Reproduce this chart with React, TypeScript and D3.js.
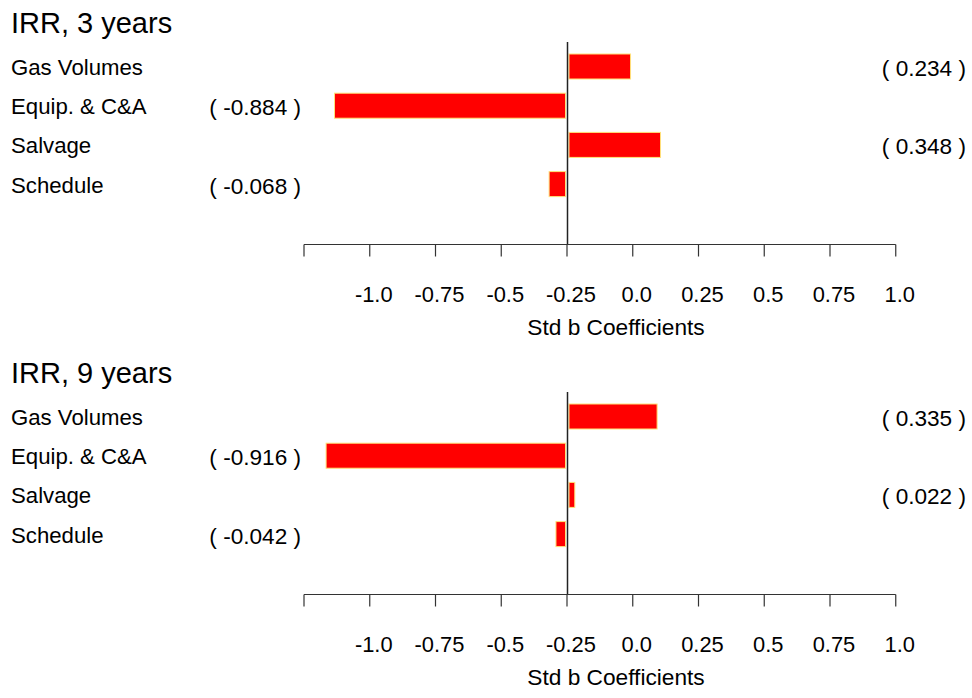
import React from "react";
import * as d3 from "d3";

const categories = ["Gas Volumes", "Equip. & C&A", "Salvage", "Schedule"];
const values3 = [0.234, -0.884, 0.348, -0.068];
const values9 = [0.335, -0.916, 0.022, -0.042];
const panelTitles = ["IRR, 3 years", "IRR, 9 years"];
const tickValues = [-1.0, -0.75, -0.5, -0.25, 0, 0.25, 0.5, 0.75, 1.0, 1.25];
const tickLabels = ["", "-1.0", "-0.75", "-0.5", "-0.25", "0.0", "0.25", "0.5", "0.75", "1.0"];
const axisTitle = "Std b Coefficients";

const W = 972;
const H = 698;
const FONT = "Arial, 'Liberation Sans', Helvetica, sans-serif";

const x = d3.scaleLinear().domain([-1, 1.25]).range([304, 895.75]);
const y = d3.scalePoint<string>().domain(categories).range([66.5, 184.1]).padding(0);

function Panel({ title, values, offset }: { title: string; values: number[]; offset: number }) {
  const x0 = x(0);
  const axisY = 244.5;
  const barH = 25;
  return (
    <g transform={`translate(0,${offset})`}>
      <text x={11} y={33.3} fontSize={29} fill="#000">{title}</text>
      {categories.map((c, i) => {
        const v = values[i];
        const cy = y(c)!;
        const bx0 = v >= 0 ? x0 + 2 : x(v);
        const bx1 = v >= 0 ? x(v) + 2 : x0 - 1.5;
        const label = `( ${v.toFixed(3)} )`;
        return (
          <g key={c}>
            <text x={11} y={cy + 8.5} fontSize={22.2} fill="#000">{c}</text>
            <rect x={bx0} y={cy - barH / 2} width={bx1 - bx0} height={barH}
              fill="#ff0000" stroke="#ffe27a" strokeWidth={1} />
            <text x={v >= 0 ? 966 : 301} y={cy + 9.5} fontSize={22.6} textAnchor="end" fill="#000">{label}</text>
          </g>
        );
      })}
      <line x1={x0 + 0.5} x2={x0 + 0.5} y1={42} y2={axisY} stroke="#222" strokeWidth={1.5} />
      <line x1={x(-1)} x2={x(1.25)} y1={axisY} y2={axisY} stroke="#333" strokeWidth={1.2} />
      {tickValues.map((t, i) => (
        <g key={t}>
          <line x1={x(t)} x2={x(t)} y1={axisY} y2={axisY + 12} stroke="#333" strokeWidth={1.2} />
          {tickLabels[i] ? (
            <text x={x(t) + 4} y={301.5} fontSize={21.9} textAnchor="middle" fill="#000">{tickLabels[i]}</text>
          ) : null}
        </g>
      ))}
      <text x={616} y={334.5} fontSize={22.7} textAnchor="middle" fill="#000">{axisTitle}</text>
    </g>
  );
}

export default function App() {
  return (
    <svg width={W} height={H} style={{ position: "absolute", left: 0, top: 0, background: "#fff" }}
      fontFamily={FONT}>
      <rect width={W} height={H} fill="#fff" />
      <Panel title={panelTitles[0]} values={values3} offset={0} />
      <Panel title={panelTitles[1]} values={values9} offset={350} />
    </svg>
  );
}
